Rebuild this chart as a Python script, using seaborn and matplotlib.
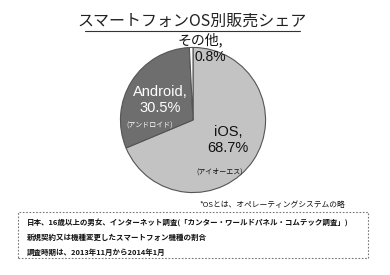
import matplotlib
matplotlib.use("Agg")
import matplotlib.pyplot as plt
import seaborn as sns
from matplotlib.patches import Rectangle

sns.set_theme(style="white")
plt.rcParams['font.family'] = ['Liberation Sans', 'Noto Sans CJK JP', 'DejaVu Sans']
CJK = ['Noto Sans CJK JP', 'DejaVu Sans']

categories = ["iOS", "Android", "その他"]
shares = [68.7, 30.5, 0.8]
readings = ["(アイオーエス)", "(アンドロイド)", ""]
colors = ["#c3c3c3", "#6e6e6e", "#ffffff"]
title = "スマートフォンOS別販売シェア"
footnote = "*OSとは、オペレーティングシステムの略"
source_lines = [
    "日本、16歳以上の男女、インターネット調査(「カンター・ワールドパネル・コムテック調査」)",
    "新規契約又は機種変更したスマートフォン機種の割合",
    "調査時期は、2013年11月から2014年1月",
]

W, H = 390, 275
fig = plt.figure(figsize=(W / 100, H / 100), dpi=100)
fig.patch.set_facecolor("white")

def px(x, y):
    return x / W, 1 - y / H

cx, cy, r = 193, 120, 74
ax = fig.add_axes([(cx - r) / W, (H - cy - r) / H, 2 * r / W, 2 * r / H])
ax.pie(shares, colors=colors, startangle=90, counterclock=False,
       wedgeprops=dict(edgecolor="#555555", linewidth=0.8))
ax.set_xlim(-1.02, 1.02)
ax.set_ylim(-1.02, 1.02)
ax.set_aspect("auto")
ax.axis("off")

# title
fig.text(*px(192, 21), title, ha="center", va="center", fontsize=11.5,
         color="#222222", family=CJK)
x0, yl = px(85, 31)
x1, _ = px(300, 31)
fig.add_artist(plt.Line2D([x0, x1], [yl, yl], color="#333333", lw=0.8))

# slice labels
fig.text(*px(200, 40), f"{categories[2]},", ha="center", va="center",
         fontsize=10, color="#111111", family=CJK)
fig.text(*px(210, 57), f"{shares[2]}%", ha="center", va="center",
         fontsize=10, color="#111111")
fig.text(*px(160, 100), f"{categories[1]},\n{shares[1]}%", ha="center", va="center",
         fontsize=10.5, color="white", linespacing=1.1)
fig.text(*px(150, 126), readings[1], ha="center", va="center", fontsize=5,
         color="white", family=CJK)
fig.text(*px(228, 140), f"{categories[0]},\n{shares[0]}%", ha="center", va="center",
         fontsize=10.5, color="#111111", linespacing=1.1)
fig.text(*px(220, 172), readings[0], ha="center", va="center", fontsize=5,
         color="#111111", family=CJK)

# footnote
fig.text(*px(345, 205), footnote, ha="right", va="center", fontsize=5.6,
         color="#111111", family=CJK)

# source box
bx0, by0 = px(18, 258)
bx1, by1 = px(368, 212)
fig.add_artist(Rectangle((bx0, by0), bx1 - bx0, by1 - by0, transform=fig.transFigure,
                         fill=False, edgecolor="#777777", lw=0.8, linestyle=(0, (1.5, 1.5))))
for i, line in enumerate(source_lines):
    fig.text(*px(27, 223 + i * 14.5), line, ha="left", va="center", fontsize=5.4,
             color="#111111", family=CJK, fontweight="bold")

fig.savefig("out.png", dpi=100, facecolor="white")
